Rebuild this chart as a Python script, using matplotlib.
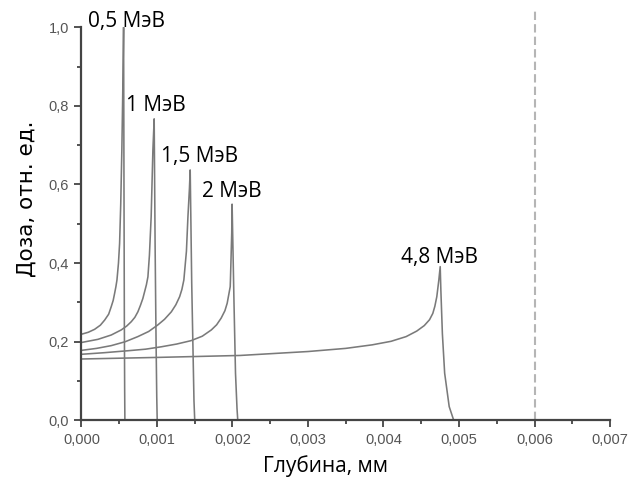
import numpy as np
import matplotlib.pyplot as plt
from matplotlib.ticker import MultipleLocator, FuncFormatter

# depth (mm) / dose (rel. units)
depth_05 = [0.0, 0.00009, 0.000174, 0.00025, 0.000307, 0.00036, 0.000394, 0.00042, 0.000439,
            0.000456, 0.00047, 0.00049, 0.000505, 0.00052, 0.000535, 0.000548, 0.000558,
            0.000563, 0.000568, 0.000572, 0.000575]
dose_05 = [0.219, 0.224, 0.2315, 0.242, 0.255, 0.27, 0.289, 0.305, 0.323,
           0.34, 0.357, 0.4, 0.45, 0.55, 0.69, 0.85, 1.0,
           0.6, 0.25, 0.08, 0.0]

depth_1 = [0.0, 0.000218, 0.000394, 0.000527, 0.0006, 0.00066, 0.000707, 0.000747, 0.00078,
           0.000813, 0.00084, 0.00086, 0.00088, 0.0009, 0.000923, 0.000946, 0.000963,
           0.000975, 0.000988, 0.000997, 0.001003]
dose_1 = [0.198, 0.206, 0.217, 0.23, 0.24, 0.251, 0.262, 0.276, 0.292,
          0.31, 0.33, 0.345, 0.365, 0.42, 0.518, 0.688, 0.767,
          0.45, 0.2, 0.06, 0.0]

depth_15 = [0.0, 0.0002, 0.000394, 0.00058, 0.000747, 0.00089, 0.00101, 0.0011, 0.00119,
            0.00125, 0.0013, 0.00133, 0.001356, 0.00139, 0.00141, 0.00143, 0.00144,
            0.00146, 0.00148, 0.00149, 0.0015]
dose_15 = [0.178, 0.183, 0.19, 0.2, 0.213, 0.226, 0.2425, 0.257, 0.276,
           0.294, 0.3145, 0.333, 0.357, 0.43, 0.518, 0.59, 0.637,
           0.35, 0.15, 0.05, 0.0]

depth_2 = [0.0, 0.0003, 0.000615, 0.00085, 0.001056, 0.00126, 0.00145, 0.0016, 0.00172,
           0.00179, 0.00185, 0.0019, 0.00193, 0.00197, 0.001973, 0.00199, 0.001995,
           0.00202, 0.00204, 0.00206, 0.00207]
dose_2 = [0.168, 0.172, 0.177, 0.181, 0.187, 0.194, 0.2026, 0.214, 0.23,
          0.243, 0.26, 0.279, 0.298, 0.34, 0.357, 0.476, 0.55,
          0.3, 0.12, 0.03, 0.0]

depth_48 = [0.0, 0.001, 0.0021, 0.003, 0.0035, 0.00385, 0.0041, 0.0043, 0.00444, 0.00454,
            0.00461, 0.004653, 0.00468, 0.004706, 0.004733, 0.004751, 0.00476,
            0.00478, 0.00481, 0.00487, 0.00493]
dose_48 = [0.156, 0.16, 0.165, 0.175, 0.183, 0.192, 0.201, 0.213, 0.227, 0.241,
           0.256, 0.272, 0.29, 0.3145, 0.357, 0.391, 0.33,
           0.22, 0.12, 0.035, 0.0]

curves = [(depth_05, dose_05), (depth_1, dose_1), (depth_15, dose_15),
          (depth_2, dose_2), (depth_48, dose_48)]

labels = ["0,5 МэВ", "1 МэВ", "1,5 МэВ", "2 МэВ", "4,8 МэВ"]
label_x = [0.00009, 0.000585, 0.001057, 0.0016, 0.00423]
label_y = [1.0015, 0.788, 0.6565, 0.569, 0.40]

limit_depth = 0.006

fig = plt.figure(figsize=(6.43, 4.83), dpi=100)
ax = fig.add_axes([0.1267, 0.1298, 0.822, 0.8137])

for d, v in curves:
    ax.plot(d, v, color="#7a7a7a", lw=1.15)

ax.plot([limit_depth, limit_depth], [0, 1.045], color="#b5b5b5", lw=1.5,
        ls=(0, (4, 2)), clip_on=False)

for t, x, y in zip(labels, label_x, label_y):
    ax.text(x, y, t, fontsize=15, family="Open Sans", va="baseline", ha="left")

ax.set_xlim(0, 0.007)
ax.set_ylim(0, 1.0)
ax.xaxis.set_major_locator(MultipleLocator(0.001))
ax.xaxis.set_minor_locator(MultipleLocator(0.0005))
ax.yaxis.set_major_locator(MultipleLocator(0.2))
ax.yaxis.set_minor_locator(MultipleLocator(0.1))
ax.xaxis.set_major_formatter(FuncFormatter(lambda v, p: f"{v:.3f}".replace(".", ",")))
ax.yaxis.set_major_formatter(FuncFormatter(lambda v, p: f"{v:.1f}".replace(".", ",")))

for s in ["top", "right"]:
    ax.spines[s].set_visible(False)
for s in ["left", "bottom"]:
    ax.spines[s].set_color("#444444")
    ax.spines[s].set_linewidth(1.6)

ax.tick_params(which="major", length=5, width=1.3, color="#444444",
               labelsize=10.5, labelcolor="#555555", pad=4)
ax.tick_params(which="minor", length=3, width=1.3, color="#444444")
for lb in ax.get_xticklabels() + ax.get_yticklabels():
    lb.set_family("Liberation Sans")

ax.set_xlabel("Глубина, мм", fontsize=15, family="Open Sans")
ax.xaxis.label.set_va("top")
ax.xaxis.set_label_coords(0.4626, -0.088)
ax.set_ylabel("Доза, отн. ед.", fontsize=15.5, family="DejaVu Sans")
ax.yaxis.label.set_va("center")
ax.yaxis.set_label_coords(-0.103, 0.563)

fig.savefig("out.png", dpi=100)
